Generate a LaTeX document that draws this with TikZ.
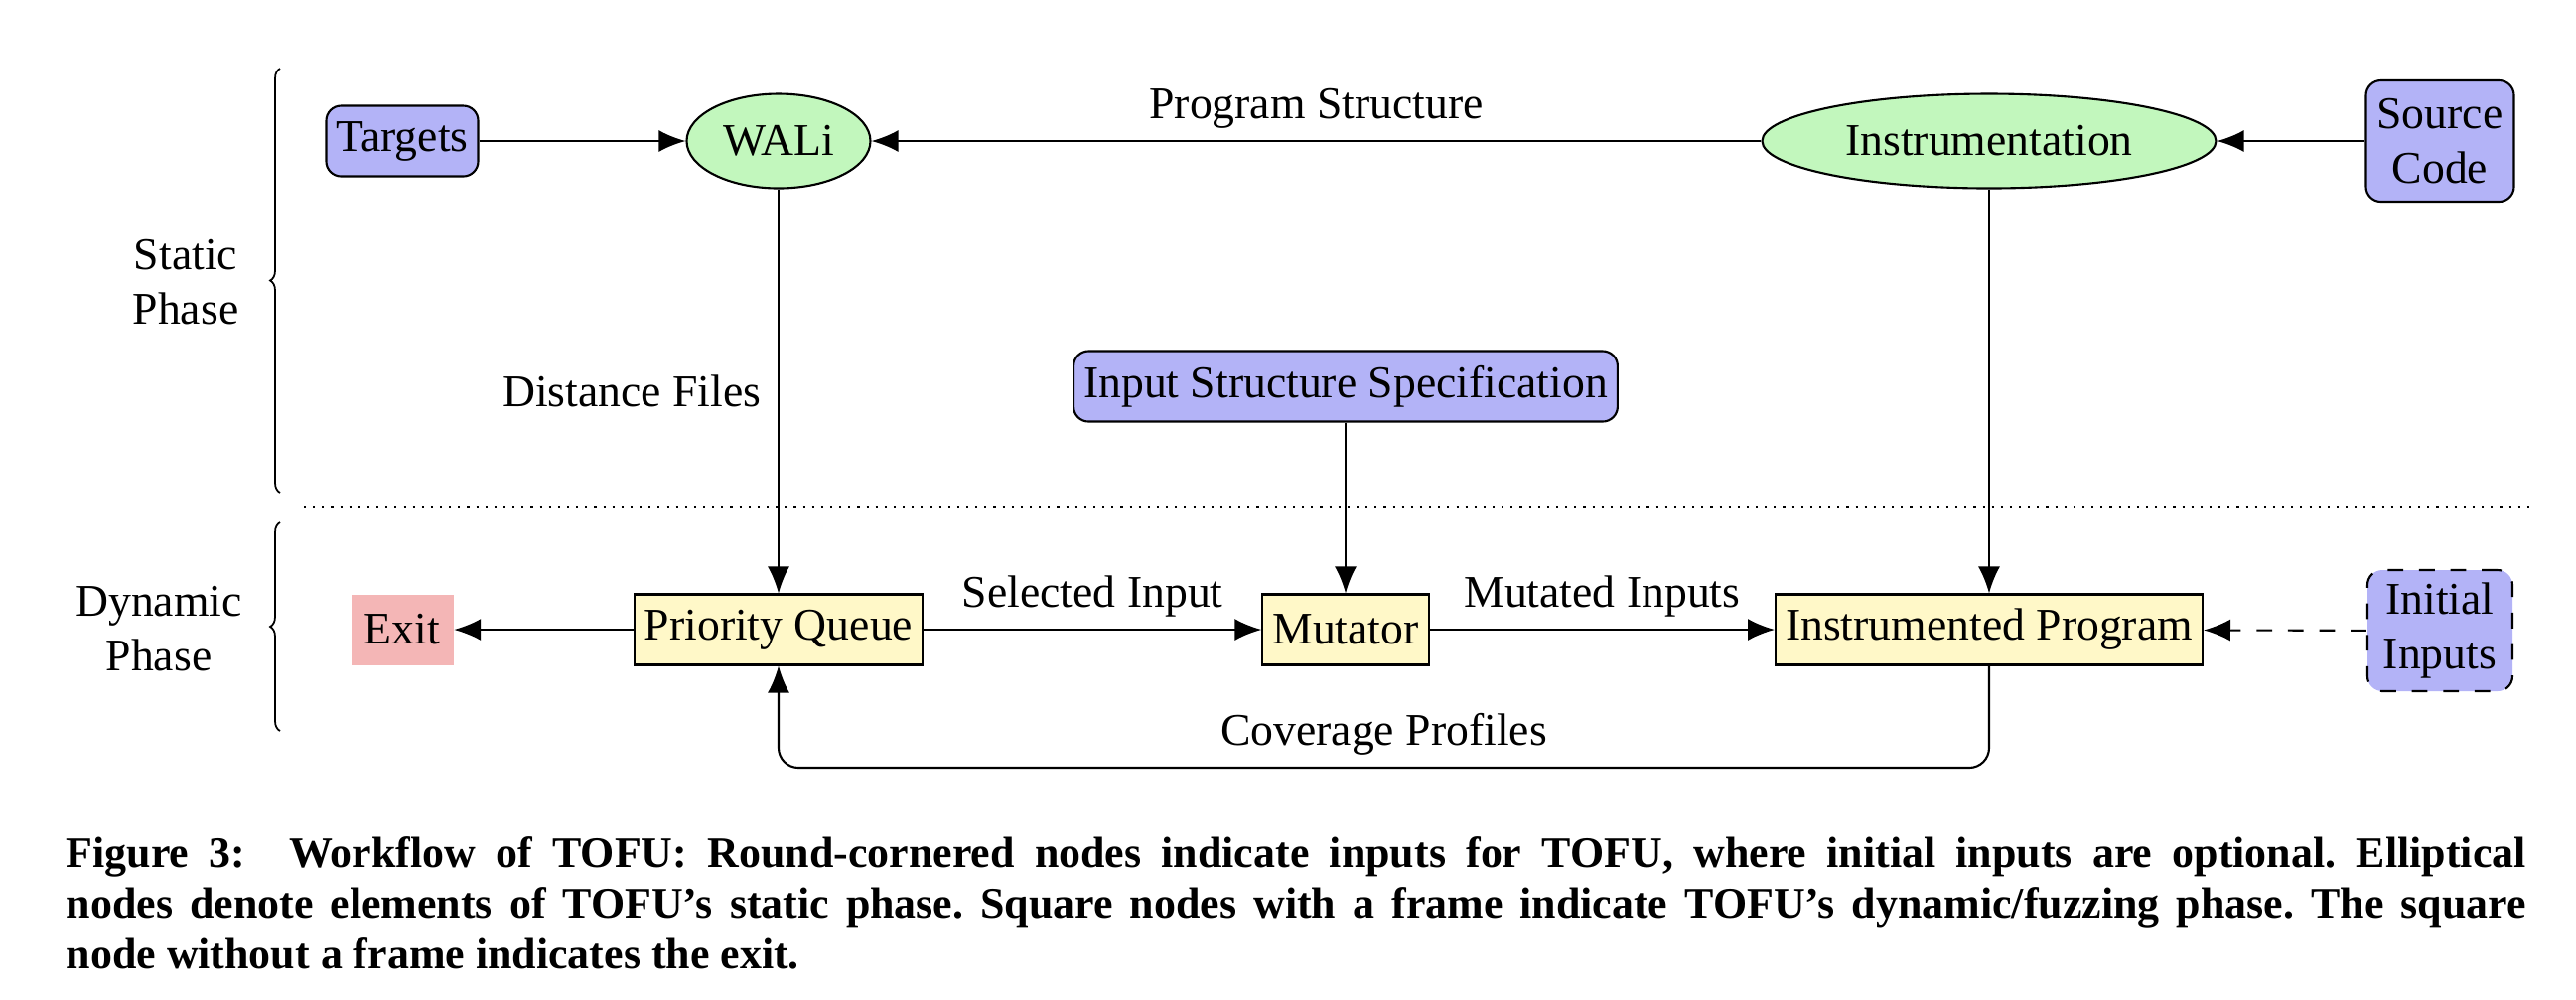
\documentclass[tikz,border=0pt]{standalone}
\usepackage{fontspec}
\setmainfont{Liberation Serif}
\usetikzlibrary{arrows.meta,shapes.geometric,decorations.pathreplacing}
\definecolor{inputblue}{RGB}{179,179,247}
\definecolor{staticgreen}{RGB}{194,247,189}
\definecolor{dynyellow}{RGB}{255,248,200}
\definecolor{exitred}{RGB}{244,182,182}

\begin{document}
\begin{tikzpicture}[font = \fontsize{13}{15.5}\selectfont,
    >={Latex[length=0.27cm, width=0.22cm]},
    inputnode/.style = {draw, rounded corners=0.15cm, fill=inputblue, minimum height=0.71cm, inner xsep=0.1cm, line width=0.6pt},
    staticnode/.style = {draw, ellipse, fill=staticgreen, minimum height=0.95cm, inner sep=0.02cm, line width=0.6pt},
    dynnode/.style = {draw, rectangle, fill=dynyellow, minimum height=0.71cm, inner xsep=0.1cm, line width=0.6pt},
    exitnode/.style = {rectangle, fill=exitred, minimum height=0.71cm, minimum width=1.03cm},
    phasebrace/.style = {decorate, decoration={brace, amplitude=0.1cm}, line width=0.5pt},
    longdash/.style = {dash pattern=on 4.5pt off 4.5pt},
    flow/.style = {->, line width=0.6pt}]
    \useasboundingbox (0,0) rectangle (25.94,-10.06);

    \node[inputnode] (targets) at (4.05,-1.42) {Targets};
    \node[staticnode, minimum width=1.85cm] (wali) at (7.84,-1.42) {WALi};
    \node[staticnode, minimum width=4.57cm] (instr) at (20.03,-1.42) {Instrumentation};
    \node[inputnode, align=center, minimum width=1.49cm, minimum height=1.22cm] (source) at (24.57,-1.42) {Source\\Code};
    \node[inputnode] (spec) at (13.55,-3.89) {Input Structure Specification};

    \node[exitnode] (exit) at (4.05,-6.34) {Exit};
    \node[dynnode] (queue) at (7.84,-6.34) {Priority Queue};
    \node[dynnode] (mutator) at (13.55,-6.34) {Mutator};
    \node[dynnode] (program) at (20.03,-6.34) {Instrumented Program};
    \node[inputnode, longdash, align=center, minimum width=1.46cm, minimum height=1.22cm] (initial) at (24.57,-6.35) {Initial\\Inputs};

    \draw[flow] (targets) -- (wali);
    \draw[flow] (instr) -- node[above = 0cm]{Program Structure} (wali);
    \draw[flow] (source) -- (instr);
    \draw[flow] (wali) -- node[left = 0.05cm]{Distance Files} (queue);
    \draw[flow] (spec) -- (mutator);
    \draw[flow] (instr) -- (program);
    \draw[flow] (queue) -- (exit);
    \draw[flow] (queue) -- node[above = 0cm]{Selected Input} (mutator);
    \draw[flow] (mutator) -- node[above = 0cm]{Mutated Inputs} (program);
    \draw[flow, longdash] (initial) -- (program);
    \draw[flow, rounded corners=0.2cm] (program.south) -- (20.03,-7.73) -- node[above = 0cm]{Coverage Profiles} (7.84,-7.73) -- (queue.south);

    \draw[dotted, line width=0.6pt] (3.06,-5.11) -- (25.48,-5.11);
    \draw[phasebrace] (2.82,-4.96) -- (2.82,-0.69);
    \draw[phasebrace] (2.82,-7.36) -- (2.82,-5.26);
    \node[align=center] (static) at (1.87,-2.84) {Static\\Phase};
    \node[align=center] (dynamic) at (1.60,-6.33) {Dynamic\\Phase};

    \node[anchor=north west, inner sep=0, text width=24.77cm, align=justify, font=\fontsize{12.5}{14.5}\selectfont\bfseries\frenchspacing] (caption) at (0.66,-8.42) {Figure 3:\quad Workflow of TOFU: Round-cornered nodes indicate inputs for TOFU, where initial inputs are optional. Elliptical\linebreak nodes denote elements of TOFU’s static phase. Square nodes with a frame indicate TOFU’s dynamic/fuzzing phase. The square\linebreak node without a frame indicates the exit.};
\end{tikzpicture}
\end{document}
